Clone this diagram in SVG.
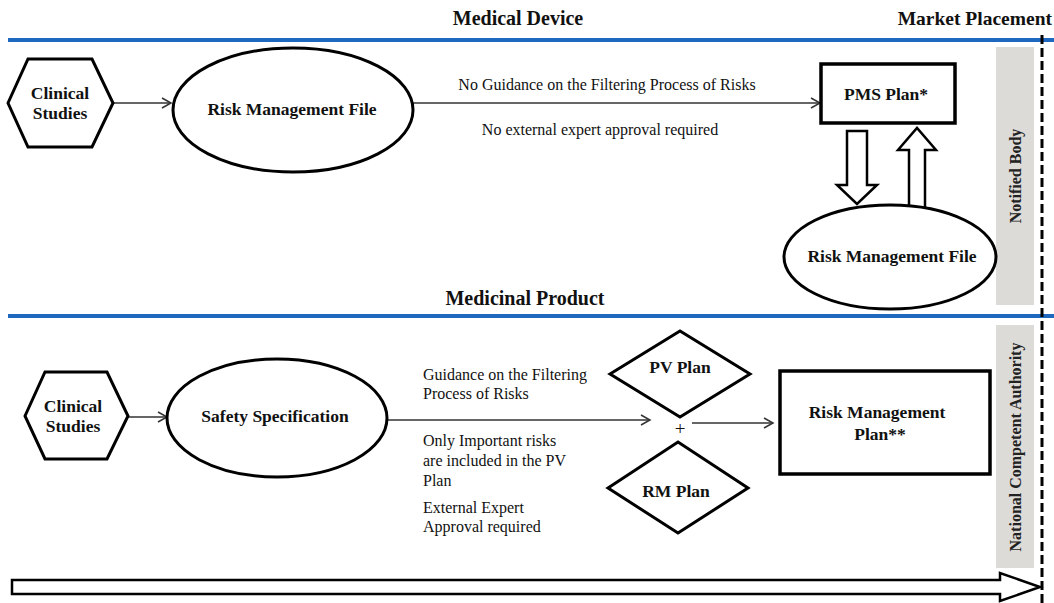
<svg xmlns="http://www.w3.org/2000/svg" width="1054" height="603" viewBox="0 0 1054 603">
<defs>
<style>
.bg{fill:#ffffff}
.sep{stroke:#1f68c0;stroke-width:4;fill:none}
.title{font-family:"Liberation Serif","Times New Roman",serif;font-weight:bold;font-size:20px;fill:#111}
.lbl{font-family:"Liberation Serif","Times New Roman",serif;font-weight:bold;font-size:17.5px;fill:#111}
.note{font-family:"Liberation Serif","Times New Roman",serif;font-size:16px;fill:#111}
.side{font-family:"Liberation Serif","Times New Roman",serif;font-weight:bold;font-size:16px;fill:#222}
.shape{fill:#fff;stroke:#000;stroke-width:3}
.box{fill:#fff;stroke:#000;stroke-width:3.5}
.block{fill:#fff;stroke:#000;stroke-width:2.5;stroke-linejoin:miter}
.gray{fill:#dddbd7}
.conn{stroke:#333;stroke-width:1.5;fill:none}
</style>
<marker id="chev" markerUnits="userSpaceOnUse" markerWidth="12" markerHeight="12" refX="10" refY="6" orient="auto">
<path d="M1,1 L10,6 L1,11" fill="none" stroke="#333" stroke-width="1.5"/>
</marker>
</defs>
<rect class="bg" x="0" y="0" width="1054" height="603"/>

<g id="headers">
<text class="title" x="518" y="25" text-anchor="middle">Medical Device</text>
<text class="title" x="1052" y="25" text-anchor="end" style="font-size:19.5px">Market Placement</text>
<text class="title" x="525" y="305" text-anchor="middle">Medicinal Product</text>
<line class="sep" x1="8" y1="40" x2="1054" y2="40"/>
<line class="sep" x1="8" y1="316" x2="1054" y2="316"/>
</g>

<g id="notified-body">
<rect class="gray" x="996" y="47" width="38" height="258"/>
<text class="side" transform="translate(1021,176) rotate(-90)" text-anchor="middle">Notified Body</text>
</g>

<g id="national-competent-authority">
<rect class="gray" x="996" y="325" width="38" height="243"/>
<text class="side" transform="translate(1021,447) rotate(-90)" text-anchor="middle">National Competent Authority</text>
</g>

<g id="market-line">
<line x1="1042" y1="35" x2="1042" y2="603" stroke="#000" stroke-width="3" stroke-dasharray="9,4"/>
</g>

<g id="connectors">
<line class="conn" x1="113" y1="103" x2="171" y2="103" marker-end="url(#chev)"/>
<line class="conn" x1="413" y1="103" x2="820" y2="103" marker-end="url(#chev)"/>
<line class="conn" x1="128" y1="417" x2="167" y2="417" marker-end="url(#chev)"/>
<line class="conn" x1="387" y1="420" x2="650" y2="420" marker-end="url(#chev)"/>
<line class="conn" x1="692" y1="423" x2="773" y2="423" marker-end="url(#chev)"/>
<path class="block" d="M847,131 L867,131 L867,185 L877,185 L857,204 L837,185 L847,185 Z"/>
<path class="block" d="M909,208 L925,208 L925,150 L936,150 L917,128 L898,150 L909,150 Z"/>
<path class="block" d="M12,580 L1000,580 L1000,573 L1040,587 L1000,601 L1000,594 L12,594 Z"/>
</g>

<g id="clinical-studies-1">
<polygon class="shape" points="8,103 28,59 92,59 113,103 92,147 28,147"/>
<text class="lbl" x="60" y="99" text-anchor="middle">Clinical</text>
<text class="lbl" x="60" y="119" text-anchor="middle">Studies</text>
</g>

<g id="risk-management-file-1">
<ellipse class="shape" cx="293" cy="110" rx="120" ry="62"/>
<text class="lbl" x="292" y="115" text-anchor="middle">Risk Management File</text>
</g>

<g id="device-notes">
<text class="note" x="607" y="90" text-anchor="middle">No Guidance on the Filtering Process of Risks</text>
<text class="note" x="600" y="135" text-anchor="middle">No external expert approval required</text>
</g>

<g id="pms-plan">
<rect class="box" x="821" y="64" width="134" height="59"/>
<text class="lbl" x="886" y="100" text-anchor="middle">PMS Plan*</text>
</g>

<g id="risk-management-file-2">
<ellipse class="shape" cx="890" cy="257" rx="106" ry="52"/>
<text class="lbl" x="892" y="262" text-anchor="middle">Risk Management File</text>
</g>

<g id="clinical-studies-2">
<polygon class="shape" points="25,416 45,372 107,372 128,416 107,459 45,459"/>
<text class="lbl" x="73" y="412" text-anchor="middle">Clinical</text>
<text class="lbl" x="73" y="432" text-anchor="middle">Studies</text>
</g>

<g id="safety-specification">
<ellipse class="shape" cx="277" cy="418" rx="110" ry="59"/>
<text class="lbl" x="275" y="422" text-anchor="middle">Safety Specification</text>
</g>

<g id="product-notes">
<text class="note" x="423" y="380">Guidance on the Filtering</text>
<text class="note" x="423" y="399">Process of Risks</text>
<text class="note" x="423" y="446">Only Important risks</text>
<text class="note" x="423" y="466">are included in the PV</text>
<text class="note" x="423" y="486">Plan</text>
<text class="note" x="423" y="513">External Expert</text>
<text class="note" x="423" y="532">Approval required</text>
</g>

<g id="pv-plan">
<polygon class="shape" points="610,374 680,331 750,374 680,417"/>
<text class="lbl" x="680" y="373" text-anchor="middle">PV Plan</text>
</g>

<g id="plus">
<text class="note" x="680" y="435" text-anchor="middle" style="font-size:19px">+</text>
</g>

<g id="rm-plan">
<polygon class="shape" points="608,488 678,442 748,488 678,533"/>
<text class="lbl" x="676" y="497" text-anchor="middle">RM Plan</text>
</g>

<g id="risk-management-plan">
<rect class="box" x="780" y="371" width="210" height="103"/>
<text class="lbl" x="877" y="418" text-anchor="middle">Risk Management</text>
<text class="lbl" x="880" y="440" text-anchor="middle">Plan**</text>
</g>
</svg>
